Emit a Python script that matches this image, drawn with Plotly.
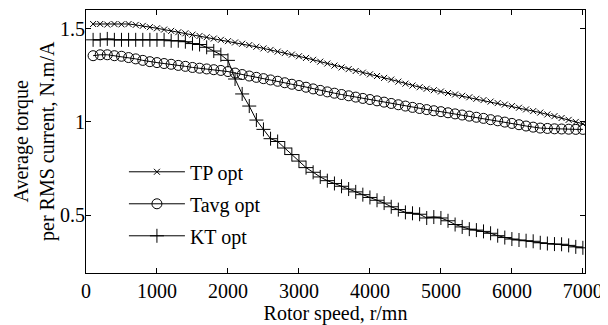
import plotly.graph_objects as go

speed = list(range(100, 7001, 100))

tp_opt = [1.525, 1.525, 1.522, 1.525, 1.523, 1.525, 1.520, 1.515, 1.508, 1.502,
          1.495, 1.488, 1.481, 1.475, 1.468, 1.461, 1.454, 1.447, 1.440, 1.433,
          1.426, 1.419, 1.412, 1.403, 1.394, 1.386, 1.377, 1.369, 1.361, 1.352,
          1.343, 1.333, 1.323, 1.313, 1.302, 1.292, 1.283, 1.273, 1.264, 1.255,
          1.246, 1.236, 1.227, 1.216, 1.205, 1.195, 1.186, 1.178, 1.170, 1.163,
          1.155, 1.147, 1.140, 1.132, 1.124, 1.117, 1.109, 1.101, 1.093, 1.085,
          1.076, 1.067, 1.058, 1.050, 1.040, 1.031, 1.021, 1.011, 1.000, 0.990]

tavg_opt = [1.355, 1.360, 1.360, 1.355, 1.352, 1.345, 1.338, 1.330, 1.323, 1.318,
            1.313, 1.309, 1.303, 1.298, 1.292, 1.288, 1.284, 1.280, 1.276, 1.270,
            1.262, 1.254, 1.246, 1.239, 1.232, 1.225, 1.218, 1.210, 1.202, 1.195,
            1.186, 1.177, 1.169, 1.161, 1.154, 1.147, 1.140, 1.133, 1.126, 1.120,
            1.113, 1.106, 1.099, 1.092, 1.085, 1.078, 1.072, 1.066, 1.060, 1.055,
            1.049, 1.043, 1.037, 1.031, 1.025, 1.019, 1.012, 1.006, 0.999, 0.992,
            0.985, 0.978, 0.972, 0.967, 0.965, 0.963, 0.962, 0.961, 0.960, 0.960]

kt_opt = [1.440, 1.440, 1.445, 1.440, 1.440, 1.440, 1.440, 1.440, 1.440, 1.440,
          1.440, 1.435, 1.435, 1.430, 1.420, 1.415, 1.400, 1.380, 1.360, 1.330,
          1.230, 1.150, 1.085, 1.010, 0.960, 0.910, 0.895, 0.860, 0.825, 0.790,
          0.755, 0.730, 0.705, 0.685, 0.670, 0.655, 0.640, 0.625, 0.610, 0.595,
          0.580, 0.565, 0.545, 0.530, 0.515, 0.510, 0.505, 0.485, 0.490, 0.485,
          0.470, 0.450, 0.437, 0.425, 0.420, 0.413, 0.403, 0.390, 0.380, 0.372,
          0.367, 0.363, 0.360, 0.352, 0.348, 0.345, 0.344, 0.338, 0.330, 0.325]

x_ticks = [0, 1000, 2000, 3000, 4000, 5000, 6000, 7000]
y_ticks = [0.5, 1, 1.5]

FONT = "Liberation Serif"
fig = go.Figure()
fig.add_trace(go.Scatter(x=speed, y=tp_opt, mode="lines+markers", name="TP opt",
                         legendgroup="a",
                         line=dict(color="black", width=1),
                         marker=dict(symbol="x-thin", size=6, color="black",
                                     line=dict(color="black", width=1))))
fig.add_trace(go.Scatter(x=speed, y=tavg_opt, mode="lines+markers", name="Tavg opt",
                         legendgroup="b",
                         line=dict(color="black", width=1),
                         marker=dict(symbol="circle-open", size=10, color="black",
                                     line=dict(color="black", width=1))))
fig.add_trace(go.Scatter(x=speed, y=kt_opt, mode="lines+markers", name="KT opt",
                         legendgroup="c",
                         line=dict(color="black", width=1),
                         marker=dict(symbol="cross-thin", size=10, color="black",
                                     line=dict(color="black", width=1))))

axis_common = dict(showgrid=False, zeroline=False, showline=True, linecolor="black",
                   linewidth=1, mirror="ticks", ticks="inside", ticklen=5,
                   tickcolor="black", automargin=False,
                   tickfont=dict(family=FONT, size=20, color="black"))

# the page body has an 8px default margin, so the figure is 8px smaller
fig.update_layout(
    width=600, height=317,
    margin=dict(l=78, r=23, t=2, b=52),
    paper_bgcolor="white", plot_bgcolor="white",
    font=dict(family=FONT, size=20, color="black"),
    xaxis=dict(range=[0, 7030], tickvals=x_ticks, **axis_common,
               title=dict(text="Rotor speed, r/mn", standoff=13,
                          font=dict(family=FONT, size=20))),
    yaxis=dict(range=[0.19, 1.6], tickvals=y_ticks, ticktext=["0.5", "1", "1.5"],
               ticklabelstandoff=-4, **axis_common),
    legend=dict(x=0.076, y=0.459, xanchor="left", yanchor="top",
                bgcolor="rgba(0,0,0,0)", itemwidth=56, tracegroupgap=3,
                font=dict(family=FONT, size=20)),
    showlegend=True,
    annotations=[dict(text="Average torque<br>per RMS current, N.m/A",
                      textangle=-90, xref="paper", yref="paper", x=0, y=0.5,
                      xanchor="right", yanchor="middle", xshift=-25,
                      showarrow=False, font=dict(family=FONT, size=20, color="black"))],
)

fig.write_html("out.html")
